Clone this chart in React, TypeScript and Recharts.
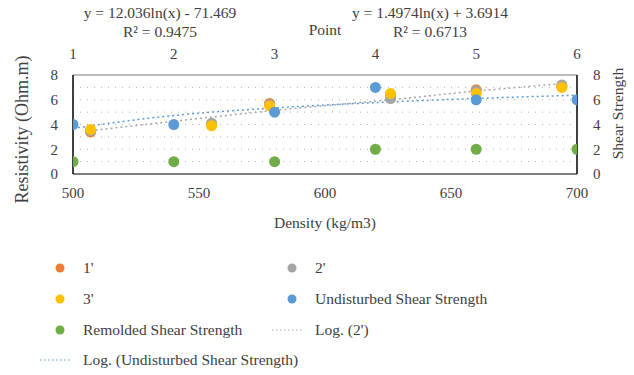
import { ComposedChart, Scatter, Line, XAxis, YAxis, ReferenceLine } from 'recharts'

// Resistivity readings at each density (kg/m3)
const densities = [507, 555, 578, 626, 660, 694]
const res1 = [3.4, 4.0, 5.7, 6.4, 6.8, 7.1]
const res2 = [3.5, 4.1, 5.6, 6.1, 6.7, 7.2]
const res3 = [3.6, 3.9, 5.5, 6.5, 6.5, 7.0]

// Shear strength at each point (top axis)
const points = [1, 2, 3, 4, 5, 6]
const undisturbed = [4, 4, 5, 7, 6, 6]
const remolded = [1, 1, 1, 2, 2, 2]

// Trendlines
const trend2 = [3.5, 4.6, 5.1, 6.0, 6.7, 7.3]
const trendUndisturbed = [3.69, 4.73, 5.34, 5.77, 6.1, 6.37]

const densityTicks = [500, 550, 600, 650, 700]
const pointTicks = [1, 2, 3, 4, 5, 6]
const strengthTicks = [0, 2, 4, 6, 8]
const gridValues = [1, 2, 3, 4, 5, 6, 7]

const FONT = '"Liberation Serif", serif'
const TEXT = '#404040'

const toXY = (xs: number[], ys: number[]) => xs.map((x, i) => ({ x, y: ys[i] }))

const dot = (color: string) => (p: any) => <circle cx={p.cx} cy={p.cy} r={5.5} fill={color} />

// rotated axis title, placed relative to the axis box
const sideLabel = (text: string, fromLeft: number | null, fromRight: number | null, shiftY: number, size: number) =>
    (props: any) => {
        const vb = props.viewBox
        const cx = fromLeft != null ? vb.x + fromLeft : vb.x + vb.width - (fromRight as number)
        const cy = vb.y + vb.height / 2 + shiftY
        return (
            <text x={cx} y={cy} transform={`rotate(-90, ${cx}, ${cy})`} textAnchor="middle" dominantBaseline="central"
                fill={TEXT} fontSize={size} fontFamily={FONT}>{text}</text>
        )
    }

const legendItems = [
    { label: "1'", color: '#ED7D31', kind: 'dot', x: 52, y: 268 },
    { label: "2'", color: '#A5A5A5', kind: 'dot', x: 284, y: 268 },
    { label: "3'", color: '#FFC000', kind: 'dot', x: 52, y: 299 },
    { label: 'Undisturbed Shear Strength', color: '#5B9BD5', kind: 'dot', x: 284, y: 299 },
    { label: 'Remolded Shear Strength', color: '#70AD47', kind: 'dot', x: 52, y: 330 },
    { label: "Log. (2')", color: '#A5A5A5', kind: 'line', x: 268, y: 330 },
    { label: 'Log. (Undisturbed Shear Strength)', color: '#5B9BD5', kind: 'line', x: 36, y: 360 },
]

export default function App() {
    const tickStyle = { fill: TEXT, fontSize: 15, fontFamily: FONT }
    const labelStyle = { fill: TEXT, fontSize: 15.5, fontFamily: FONT }

    return (
        <div style={{ position: 'absolute', left: 0, top: 0, width: 634, height: 375, background: '#fff', fontFamily: FONT, color: TEXT }}>
            <ComposedChart width={634} height={240} margin={{ top: 0, right: 0, bottom: 0, left: 0 }} style={{ fontFamily: FONT }}>
                <XAxis
                    xAxisId="d" dataKey="x" type="number" domain={[500, 700]} ticks={densityTicks}
                    allowDataOverflow height={66} tickLine={false} tickSize={0} tickMargin={13}
                    axisLine={{ stroke: '#7f7f7f', strokeWidth: 2 }} tick={tickStyle}
                    label={{ value: 'Density (kg/m3)', position: 'insideBottom', offset: 12, style: labelStyle }}
                />
                <XAxis
                    xAxisId="p" dataKey="x" type="number" orientation="top" domain={[1, 6]} ticks={pointTicks}
                    allowDataOverflow height={75} tickLine={false} tickSize={0} tickMargin={16}
                    axisLine={{ stroke: '#a6a6a6', strokeWidth: 1.5 }} tick={tickStyle}
                    label={{ value: 'Point', position: 'insideTop', offset: 24, style: labelStyle }}
                />
                <YAxis
                    yAxisId="l" dataKey="y" type="number" domain={[0, 8]} ticks={strengthTicks}
                    allowDataOverflow width={73} tickLine={false} tickSize={0} tickMargin={15}
                    axisLine={{ stroke: '#000', strokeWidth: 1.5 }} tick={tickStyle}
                    label={sideLabel('Resistivity (Ohm.m)', 22, null, 5, 18)}
                />
                <YAxis
                    yAxisId="r" dataKey="y" type="number" orientation="right" domain={[0, 8]} ticks={strengthTicks}
                    allowDataOverflow width={57} tickLine={false} tickSize={0} tickMargin={16}
                    axisLine={{ stroke: '#000', strokeWidth: 1.5 }} tick={tickStyle}
                    label={sideLabel('Shear Strength', null, 17, -11, 15.5)}
                />
                {gridValues.map(v => (
                    <ReferenceLine key={v} xAxisId="d" yAxisId="l" y={v} stroke="#b0b0b0" strokeDasharray="1 6" />
                ))}

                <Line data={toXY(densities, trend2)} xAxisId="d" yAxisId="l" dataKey="y" type="monotone"
                    stroke="#A5A5A5" strokeWidth={1.5} strokeDasharray="2 3" dot={false} isAnimationActive={false} />
                <Line data={toXY(points, trendUndisturbed)} xAxisId="p" yAxisId="r" dataKey="y" type="monotone"
                    stroke="#5B9BD5" strokeWidth={1.5} strokeDasharray="2 3" dot={false} isAnimationActive={false} />

                <Scatter data={toXY(densities, res1)} xAxisId="d" yAxisId="l" shape={dot('#ED7D31')} isAnimationActive={false} />
                <Scatter data={toXY(densities, res2)} xAxisId="d" yAxisId="l" shape={dot('#A5A5A5')} isAnimationActive={false} />
                <Scatter data={toXY(densities, res3)} xAxisId="d" yAxisId="l" shape={dot('#FFC000')} isAnimationActive={false} />
                <Scatter data={toXY(points, undisturbed)} xAxisId="p" yAxisId="r" shape={dot('#5B9BD5')} isAnimationActive={false} />
                <Scatter data={toXY(points, remolded)} xAxisId="p" yAxisId="r" shape={dot('#70AD47')} isAnimationActive={false} />
            </ComposedChart>

            {/* trendline equations */}
            <div style={{ position: 'absolute', left: 60, width: 200, top: 3, textAlign: 'center', fontSize: 15.5, lineHeight: '19px' }}>
                y = 12.036ln(x) - 71.469<br />R² = 0.9475
            </div>
            <div style={{ position: 'absolute', left: 330, width: 200, top: 3, textAlign: 'center', fontSize: 15.5, lineHeight: '19px' }}>
                y = 1.4974ln(x) + 3.6914<br />R² = 0.6713
            </div>

            {legendItems.map(item => (
                <div key={item.label} style={{ position: 'absolute', left: item.x, top: item.y - 10, height: 20, display: 'flex', alignItems: 'center', fontSize: 15.5 }}>
                    {item.kind === 'dot' ? (
                        <svg width={31} height={20}><circle cx={8} cy={10} r={4.5} fill={item.color} /></svg>
                    ) : (
                        <svg width={47} height={20}><line x1={4} x2={36} y1={10} y2={10} stroke={item.color} strokeWidth={1.2} strokeDasharray="1.5 2.5" /></svg>
                    )}
                    <span>{item.label}</span>
                </div>
            ))}
        </div>
    )
}
